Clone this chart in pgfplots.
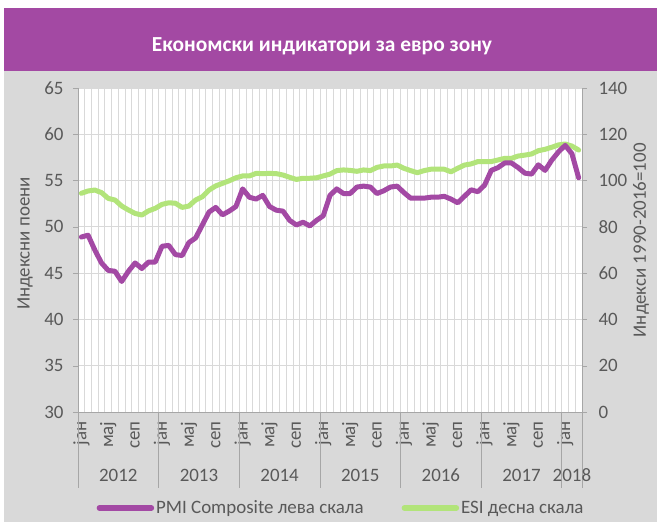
\documentclass[border=0pt]{standalone}
\usepackage{fontspec}
\setmainfont{Carlito}
\usepackage{pgfplots}
\pgfplotsset{compat=1.18}
\usepackage{pgfplotstable}
\definecolor{pmi}{RGB}{163,73,164}
\definecolor{esi}{RGB}{178,228,122}
\definecolor{bggrey}{RGB}{217,217,217}
\definecolor{axgrey}{RGB}{166,166,166}
\definecolor{gridgrey}{RGB}{217,217,217}
\definecolor{txtgrey}{RGB}{89,89,89}
\definecolor{titlepurple}{RGB}{163,73,163}

\pgfplotstableread{
m pmi esi
0 48.9 94.5
1 49.1 95.5
2 47.5 95.9
3 46.1 94.8
4 45.3 92.3
5 45.2 91.6
6 44.1 89.0
7 45.2 87.3
8 46.1 85.8
9 45.5 85.1
10 46.2 86.9
11 46.2 88.0
12 47.9 89.7
13 48.0 90.4
14 47.0 90.2
15 46.9 88.4
16 48.3 89.0
17 48.8 91.6
18 50.2 93.0
19 51.6 95.9
20 52.1 97.7
21 51.3 98.8
22 51.7 99.9
23 52.2 101.2
24 54.1 102.0
25 53.2 102.0
26 53.0 103.1
27 53.4 103.0
28 52.2 103.1
29 51.8 103.0
30 51.7 102.4
31 50.7 101.4
32 50.2 100.5
33 50.5 101.0
34 50.1 101.0
35 50.7 101.2
36 51.2 102.0
37 53.4 102.8
38 54.1 104.3
39 53.6 104.6
40 53.6 104.4
41 54.3 104.0
42 54.4 104.6
43 54.3 104.3
44 53.6 105.7
45 53.9 106.3
46 54.3 106.3
47 54.4 106.7
48 53.7 105.3
49 53.1 104.3
50 53.1 103.4
51 53.1 104.3
52 53.2 104.9
53 53.2 104.9
54 53.3 104.9
55 53.0 103.8
56 52.6 105.3
57 53.3 106.7
58 54.0 107.2
59 53.8 108.2
60 54.5 108.2
61 56.1 108.2
62 56.4 108.9
63 56.9 109.6
64 56.9 109.6
65 56.4 110.6
66 55.8 111.0
67 55.7 111.5
68 56.7 112.9
69 56.1 113.5
70 57.2 114.4
71 58.1 115.4
72 58.8 115.8
73 57.9 114.9
74 55.3 113.2
}\datatable

\newcommand{\lblfont}{\fontsize{19}{22}\selectfont}

\pgfplotsset{
  common/.style={
    at={(78bp,110bp)}, anchor=south west,
    scale only axis, width=504bp, height=324bp,
    xmin=-0.5, xmax=74.5,
    tick label style={font=\lblfont, text=txtgrey},
    label style={font=\lblfont, text=txtgrey},
    /pgf/number format/assume math mode=true,
    axis line style={draw=axgrey, -},
    tick style={draw=axgrey},
    tick align=outside,
    major tick length=5bp,
  }
}

\begin{document}
\begin{tikzpicture}
\useasboundingbox (0,0) rectangle (657bp,522bp);
\fill[white] (0,0) rectangle (657bp,522bp);
\fill[bggrey] (4bp,0) rectangle (657bp,451bp);
\fill[titlepurple] (4bp,451bp) rectangle (657bp,514bp);
\node[text=white, font=\bfseries\fontsize{21.5}{24}\selectfont] at (322bp,476bp) {Економски индикатори за евро зону};

% base axis: left scale, grid, labels, legend
\begin{axis}[common,
  axis background/.style={fill=white},
  axis x line*=bottom, axis y line*=left,
  ymin=30, ymax=65, ytick={30,35,...,65},
  yticklabel style={xshift=-6bp},
  ymajorgrids=true, major grid style={draw=gridgrey, line width=0.8bp},
  xtick={0,4,...,72},
  xticklabels={јан,мај,сеп,јан,мај,сеп,јан,мај,сеп,јан,мај,сеп,јан,мај,сеп,јан,мај,сеп,јан},
  xticklabel style={rotate=90, anchor=east, xshift=-1bp},
  x tick style={draw=none},
  minor xtick={-0.5,0.5,...,74.5},
  xminorgrids=true, minor grid style={draw=gridgrey, line width=0.8bp},
  ylabel={Индексни поени},
  ylabel style={at={(axis description cs:-0.105,0.52)}, anchor=center},
  clip=false,
  legend columns=2,
  legend style={at={(axis description cs:0.522,-0.296)}, anchor=center,
    draw=none, fill=none, font=\lblfont, text=txtgrey,
    /tikz/every even column/.append style={column sep=36bp}},
  legend image code/.code={\draw[#1, line width=5.5bp, line cap=round] (0bp,0bp) -- (52bp,0bp);},
]
\addlegendimage{pmi}
\addlegendentry{PMI Composite лева скала}
\addlegendimage{esi}
\addlegendentry{ESI десна скала}
\foreach \b in {-0.5,11.5,23.5,35.5,47.5,59.5,71.5,74.5} {
  \edef\tmp{\noexpand\draw[axgrey, line width=0.8bp] (axis cs:\b,30) -- ([yshift=-76bp]axis cs:\b,30);}\tmp
}
\foreach \c/\y in {5.5/2012,17.5/2013,29.5/2014,41.5/2015,53.5/2016,65.5/2017,73/2018} {
  \edef\tmp{\noexpand\node[font=\noexpand\lblfont, text=txtgrey] at ([yshift=-63bp]axis cs:\c,30) {\y};}\tmp
}
\end{axis}

% right scale: ESI
\begin{axis}[common,
  axis x line=none, axis y line*=right,
  ymin=0, ymax=140, ytick={0,20,...,140},
  yticklabel style={xshift=8bp},
  ylabel={Индекси 1990-2016=100},
  ylabel style={at={(axis description cs:1.117,0.53)}, anchor=center},
]
\addplot[esi, line width=5bp, line join=round, line cap=round] table[x=m, y=esi] {\datatable};
\end{axis}

% left scale: PMI on top
\begin{axis}[common,
  hide axis,
  ymin=30, ymax=65,
]
\addplot[pmi, line width=5bp, line join=round, line cap=round] table[x=m, y=pmi] {\datatable};
\end{axis}
\end{tikzpicture}
\end{document}
